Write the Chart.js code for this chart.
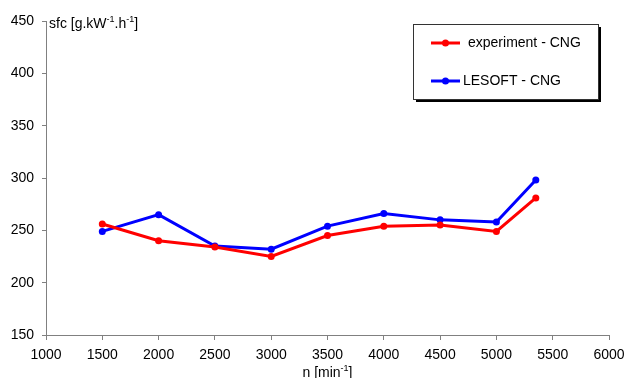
<!DOCTYPE html>
<html>
<head>
<meta charset="utf-8">
<script src="https://cdn.jsdelivr.net/npm/chart.js@4"></script>
<style>
html,body{margin:0;padding:0;background:#fff;}
#wrap{width:625px;height:378px;position:relative;}
</style>
</head>
<body>
<div id="wrap"><canvas id="c" width="625" height="378"></canvas></div>
<script>
const rpm = [1500, 2000, 2500, 3000, 3500, 4000, 4500, 5000, 5350];
const experimentCNG = [256, 240, 234, 225, 245, 254, 255, 249, 281];
const lesoftCNG = [249, 265, 235, 232, 254, 266, 260, 258, 298];
const seriesNames = ["experiment - CNG", "LESOFT - CNG"];
const xTitle = ["n [min", "-1", "]"];
const yTitle = ["sfc [g.kW", "-1", ".h", "-1", "]"];

const FONT = "Liberation Sans, Arial, sans-serif";
const AXIS = "#808080";

function pts(xs, ys){ return xs.map((x,i)=>({x:x, y:ys[i]})); }

function drawSup(ctx, parts, x, y, align){
  const big = "14px " + FONT, small = "9px " + FONT;
  let widths = parts.map((p,i)=>{ ctx.font = (i%2? small: big); return ctx.measureText(p).width; });
  let total = widths.reduce((a,b)=>a+b,0);
  let cx = align === "center" ? x - total/2 : x;
  parts.forEach((p,i)=>{
    ctx.font = (i%2? small: big);
    ctx.fillText(p, cx, i%2 ? y-6 : y);
    cx += widths[i];
  });
}

const extras = {
  id: "extras",
  afterDraw(chart){
    const ctx = chart.ctx;
    ctx.save();
    ctx.fillStyle = "#000";
    ctx.textBaseline = "alphabetic";
    ctx.textAlign = "left";
    drawSup(ctx, yTitle, 49, 28, "left");
    const ca = chart.chartArea;
    drawSup(ctx, xTitle, (ca.left+ca.right)/2, 377, "center");
    // legend
    const lx = 413, ly = 24, lw = 185, lh = 75;
    ctx.fillStyle = "#000";
    ctx.fillRect(lx+3, ly+3, lw, lh);
    ctx.fillStyle = "#fff";
    ctx.fillRect(lx, ly, lw, lh);
    ctx.strokeStyle = "#333";
    ctx.lineWidth = 1;
    ctx.strokeRect(lx+0.5, ly+0.5, lw, lh);
    const items = [
      {c: "#ff0000", y: 43, tx: 468, t: seriesNames[0]},
      {c: "#0000ff", y: 81, tx: 463, t: seriesNames[1]}
    ];
    items.forEach(it=>{
      ctx.strokeStyle = it.c;
      ctx.lineWidth = 3;
      ctx.beginPath(); ctx.moveTo(431, it.y); ctx.lineTo(460, it.y); ctx.stroke();
      ctx.fillStyle = it.c;
      ctx.beginPath(); ctx.arc(445.5, it.y, 3.5, 0, Math.PI*2); ctx.fill();
      ctx.fillStyle = "#000";
      ctx.font = "14px " + FONT;
      ctx.textBaseline = "middle";
      ctx.fillText(it.t, it.tx, it.y);
    });
    ctx.restore();
  }
};

new Chart(document.getElementById("c"), {
  type: "line",
  data: {
    datasets: [
      {label: seriesNames[0], data: pts(rpm, experimentCNG), borderColor: "#ff0000", backgroundColor: "#ff0000",
       borderWidth: 3, pointRadius: 3.5, pointBorderWidth: 0, tension: 0},
      {label: seriesNames[1], data: pts(rpm, lesoftCNG), borderColor: "#0000ff", backgroundColor: "#0000ff",
       borderWidth: 3, pointRadius: 3.5, pointBorderWidth: 0, tension: 0}
    ]
  },
  options: {
    responsive: false,
    animation: false,
    devicePixelRatio: 1,
    layout: {padding: {top: 21, right: 16, left: 0, bottom: 0}},
    plugins: {legend: {display: false}, tooltip: {enabled: false}},
    scales: {
      x: {
        type: "linear", min: 1000, max: 6000,
        ticks: {stepSize: 500, color: "#000", font: {size: 14, family: FONT}, padding: 7, maxRotation: 0,
                callback: v => String(v)},
        grid: {drawOnChartArea: false, tickLength: 5, color: AXIS},
        border: {color: AXIS, width: 1},
        afterFit: s => { s.height = 43; s.paddingLeft = 0; s.paddingRight = 0; }
      },
      y: {
        min: 150, max: 450,
        ticks: {stepSize: 50, color: "#000", font: {size: 14, family: FONT}, padding: 8},
        grid: {drawOnChartArea: false, tickLength: 4, color: AXIS},
        border: {color: AXIS, width: 1},
        afterFit: s => { s.width = 46; s.paddingTop = 0; s.paddingBottom = 0; }
      }
    }
  },
  plugins: [extras]
});
</script>
</body>
</html>
